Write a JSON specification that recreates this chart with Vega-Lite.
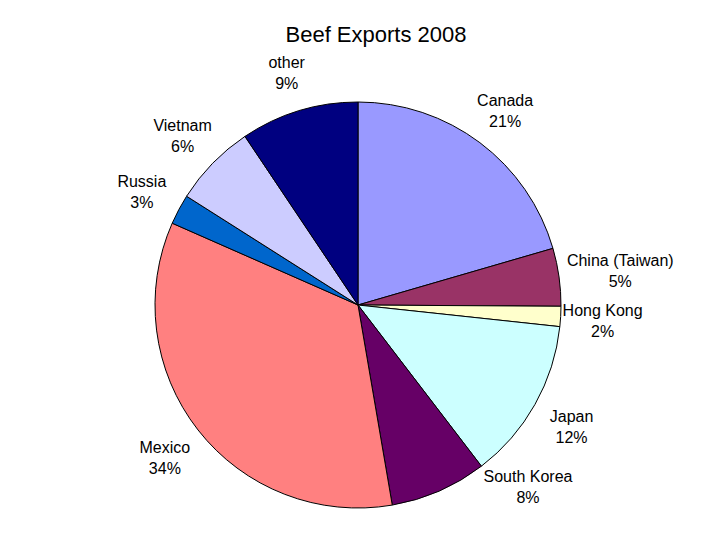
{
  "$schema": "https://vega.github.io/schema/vega-lite/v6.json",
  "autosize": {"type": "none"},
  "width": 716,
  "height": 470,
  "padding": {"top": 70, "left": 0, "right": 4, "bottom": 0},
  "background": "white",
  "title": {
    "text": "Beef Exports 2008",
    "font": "Liberation Sans",
    "fontSize": 22,
    "fontWeight": "normal",
    "color": "black",
    "anchor": "middle",
    "baseline": "bottom",
    "offset": -14,
    "dx": 18
  },
  "data": {
    "values": [
      {"idx": 1, "name": "Canada", "value": 20.5, "label": "Canada\n21%"},
      {"idx": 2, "name": "China (Taiwan)", "value": 4.6, "label": "China (Taiwan)\n5%"},
      {"idx": 3, "name": "Hong Kong", "value": 1.6, "label": "Hong Kong\n2%"},
      {"idx": 4, "name": "Japan", "value": 12.9, "label": "Japan\n12%"},
      {"idx": 5, "name": "South Korea", "value": 7.7, "label": "South Korea\n8%"},
      {"idx": 6, "name": "Mexico", "value": 34.3, "label": "Mexico\n34%"},
      {"idx": 7, "name": "Russia", "value": 2.4, "label": "Russia\n3%"},
      {"idx": 8, "name": "Vietnam", "value": 6.6, "label": "Vietnam\n6%"},
      {"idx": 9, "name": "other", "value": 9.4, "label": "other\n9%"}
    ]
  },
  "layer": [
    {
      "mark": {"type": "arc", "radius": 203, "stroke": "black", "strokeWidth": 1},
      "encoding": {
        "theta": {"field": "value", "type": "quantitative", "stack": true},
        "order": {"field": "idx", "type": "quantitative"},
        "color": {
          "field": "name",
          "type": "nominal",
          "legend": null,
          "scale": {
            "domain": ["Canada", "China (Taiwan)", "Hong Kong", "Japan", "South Korea", "Mexico", "Russia", "Vietnam", "other"],
            "range": ["#9999FF", "#993366", "#FFFFCC", "#CCFFFF", "#660066", "#FF8080", "#0066CC", "#CCCCFF", "#000080"]
          }
        }
      }
    },
    {
      "mark": {"type": "text", "radius": 245, "dy": -8, "font": "Liberation Sans", "fontSize": 16, "lineBreak": "\n", "lineHeight": 21, "align": "center", "baseline": "middle", "color": "black"},
      "encoding": {
        "theta": {"field": "value", "type": "quantitative", "stack": true},
        "order": {"field": "idx", "type": "quantitative"},
        "text": {"condition": {"test": "datum.name !== 'South Korea' && datum.name !== 'China (Taiwan)'", "field": "label"}, "value": ""}
      }
    },
    {
      "transform": [
        {"stack": "value", "groupby": [], "sort": [{"field": "idx", "order": "ascending"}], "as": ["v0", "v1"]},
        {"filter": "datum.name === 'China (Taiwan)'"}
      ],
      "mark": {"type": "text", "radius": 245, "dx": 27, "dy": 24, "font": "Liberation Sans", "fontSize": 16, "lineBreak": "\n", "lineHeight": 21, "align": "center", "baseline": "middle", "color": "black"},
      "encoding": {
        "theta": {"field": "v0", "type": "quantitative", "stack": null},
        "text": {"field": "label"}
      }
    },
    {
      "transform": [
        {"stack": "value", "groupby": [], "sort": [{"field": "idx", "order": "ascending"}], "as": ["v0", "v1"]},
        {"filter": "datum.name === 'South Korea'"}
      ],
      "mark": {"type": "text", "radius": 245, "dx": 21, "dy": -23, "font": "Liberation Sans", "fontSize": 16, "lineBreak": "\n", "lineHeight": 21, "align": "center", "baseline": "middle", "color": "black"},
      "encoding": {
        "theta": {"field": "v0", "type": "quantitative", "stack": null},
        "text": {"field": "label"}
      }
    }
  ]
}
